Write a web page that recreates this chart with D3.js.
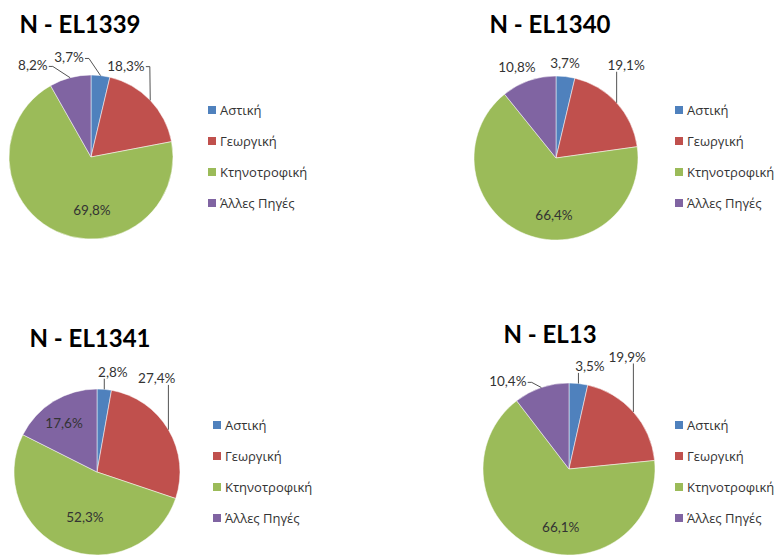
<!DOCTYPE html>
<html>
<head>
<meta charset="utf-8">
<script src="https://cdn.jsdelivr.net/npm/d3@7"></script>
<style>
  html, body { margin: 0; padding: 0; background: #fff; }
  svg { display: block; }
</style>
</head>
<body>
<svg id="chart" width="777" height="556"></svg>
<script>
// ---- data ----
const categories = ["Αστική", "Γεωργική", "Κτηνοτροφική", "Άλλες Πηγές"];
const regions = ["N - EL1339", "N - EL1340", "N - EL1341", "N - EL13"];
const valuesEL1339 = [3.7, 18.3, 69.8, 8.2];
const valuesEL1340 = [3.7, 19.1, 66.4, 10.8];
const valuesEL1341 = [2.8, 27.4, 52.3, 17.6];
const valuesEL13   = [3.5, 19.9, 66.1, 10.4];
const seriesValues = [valuesEL1339, valuesEL1340, valuesEL1341, valuesEL13];

// ---- layout / style ----
const colors = ["#4F81BD", "#C0504D", "#9BBB59", "#8064A2"];
const panels = [
  { cx: 91,  cy: 157, r: 82, titleX: 80,  titleY: 33,  legX: 208, legY: 110,
    labels: [[-12.5, 1.24], [21, 1.19], [179, 0.65], [-32.5, 1.32]] },
  { cx: 556, cy: 158, r: 82, titleX: 550, titleY: 33,  legX: 675, legY: 110,
    labels: [[5.4, 1.16], [37, 1.42], [182, 0.70], [-23.2, 1.21]] },
  { cx: 97,  cy: 472, r: 83, titleX: 90,  titleY: 347, legX: 213, legY: 425,
    labels: [[9, 1.22], [32.5, 1.34], [195, 0.56], [-34, 0.71]] },
  { cx: 569, cy: 469, r: 86, titleX: 550, titleY: 343, legX: 675, legY: 425,
    labels: [[11.5, 1.22], [27.4, 1.47], [188, 0.69], [-35, 1.24]] }
];
const legendStep = 31;

const locale = d3.formatLocale({ decimal: ",", thousands: ".", grouping: [3] });
const fmt = v => locale.format(".1f")(v) + "%";

const svg = d3.select("#chart");
const pie = d3.pie().sort(null).value(d => d);
const rad = deg => deg * Math.PI / 180;

panels.forEach((p, i) => {
  const g = svg.append("g");
  const arcs = pie(seriesValues[i]);
  const arc = d3.arc().innerRadius(0).outerRadius(p.r);

  // title
  g.append("text")
    .attr("x", p.titleX).attr("y", p.titleY)
    .attr("text-anchor", "middle")
    .attr("font-family", "Lato, 'Open Sans', sans-serif")
    .attr("font-weight", "bold")
    .attr("font-size", 24)
    .attr("fill", "#000")
    .text(regions[i]);

  const pg = g.append("g").attr("transform", `translate(${p.cx},${p.cy})`);
  pg.selectAll("path.slice").data(arcs).join("path")
    .attr("class", "slice")
    .attr("d", arc)
    .attr("fill", (d, j) => colors[j])
    .attr("stroke", "#fff")
    .attr("stroke-width", 0.5);

  // labels
  arcs.forEach((d, j) => {
    const [ang, f] = p.labels[j];
    const lx = Math.sin(rad(ang)) * p.r * f;
    const ly = -Math.cos(rad(ang)) * p.r * f;
    const t = pg.append("text")
      .attr("x", lx).attr("y", ly)
      .attr("dy", "0.35em")
      .attr("text-anchor", "middle")
      .attr("font-family", "Lato, 'Open Sans', sans-serif")
      .attr("font-size", 13.5)
      .attr("fill", "#333")
      .text(fmt(d.data));
    if (f > 1) {
      const mid = (d.startAngle + d.endAngle) / 2;
      const px = Math.sin(mid) * p.r, py = -Math.cos(mid) * p.r;
      const bb = t.node().getBBox();
      const left = bb.x - 1, right = bb.x + bb.width + 1;
      const top = bb.y + 2, bottom = bb.y + bb.height - 1;
      let pts;
      if (px > right) {
        const my = bb.y + bb.height / 2 + 1;
        pts = [[right, my], [right + 4, my], [px, py]];
      } else if (px < left) {
        const my = bb.y + bb.height / 2 + 1;
        pts = [[left, my], [left - 4, my], [px, py]];
      } else {
        pts = [[px, py < ly ? top : bottom], [px, py]];
      }
      const dist = Math.hypot(pts[0][0] - px, pts[0][1] - py);
      if (dist > 10) {
        pg.append("path")
          .attr("d", d3.line()(pts))
          .attr("fill", "none")
          .attr("stroke", "#404040")
          .attr("stroke-width", 0.9);
      }
    }
  });

  // legend
  const lg = g.append("g").attr("transform", `translate(${p.legX},${p.legY})`);
  categories.forEach((c, j) => {
    lg.append("rect")
      .attr("x", 0).attr("y", j * legendStep - 4)
      .attr("width", 8).attr("height", 8)
      .attr("fill", colors[j]);
    lg.append("text")
      .attr("x", 12).attr("y", j * legendStep)
      .attr("dy", "0.35em")
      .attr("font-family", "'Open Sans', 'Noto Sans', sans-serif")
      .attr("font-size", 13)
      .attr("fill", "#333")
      .text(c);
  });
});
</script>
</body>
</html>
